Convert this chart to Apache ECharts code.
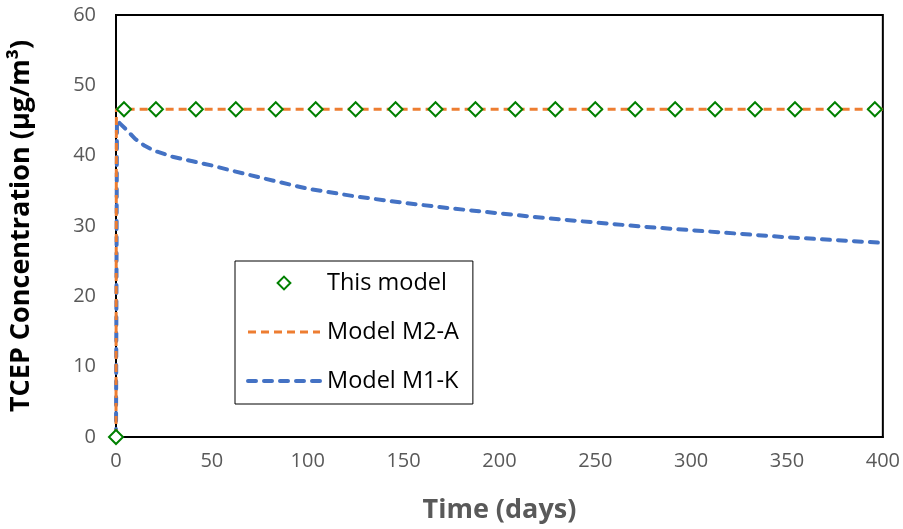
<!DOCTYPE html>
<html>
<head>
<meta charset="utf-8">
<script src="https://cdn.jsdelivr.net/npm/echarts@6/dist/echarts.min.js"></script>
<style>html,body{margin:0;padding:0;background:#fff}#c{width:903px;height:529px}</style>
</head>
<body>
<div id="c"></div>
<script>
// Data
const thisModelDays = [0, 4.17, 20.83, 41.67, 62.5, 83.33, 104.17, 125, 145.83, 166.67, 187.5, 208.33, 229.17, 250, 270.83, 291.67, 312.5, 333.33, 354.17, 375, 395.83];
const thisModelValues = [0, 46.6, 46.6, 46.6, 46.6, 46.6, 46.6, 46.6, 46.6, 46.6, 46.6, 46.6, 46.6, 46.6, 46.6, 46.6, 46.6, 46.6, 46.6, 46.6, 46.6];
const m2aDays = [0, 0.2, 400];
const m2aValues = [0, 46.6, 46.6];
const m1kDays = [0, 0.5, 2, 5, 10, 15, 20, 30, 40, 50, 60, 75, 100, 125, 150, 175, 200, 225, 250, 275, 300, 325, 350, 375, 400];
const m1kValues = [0, 45.0, 44.6, 43.8, 42.4, 41.4, 40.7, 39.8, 39.2, 38.6, 37.9, 36.9, 35.3, 34.2, 33.3, 32.5, 31.8, 31.1, 30.5, 29.9, 29.4, 28.9, 28.4, 28.0, 27.6];
const xTicks = [0, 50, 100, 150, 200, 250, 300, 350, 400];
const yTicks = [0, 10, 20, 30, 40, 50, 60];
const seriesNames = ['This model', 'Model M2-A', 'Model M1-K'];

const zip = (a, b) => a.map((v, i) => [v, b[i]]);
const FONT = '"Open Sans", Lato, "Liberation Sans", sans-serif';

const chart = echarts.init(document.getElementById('c'), null, {renderer: 'canvas'});
chart.setOption({
  animation: false,
  backgroundColor: '#fff',
  textStyle: {fontFamily: FONT},
  grid: {left: 115, right: 20, top: 15, bottom: 92, show: true, borderColor: '#000', borderWidth: 2, backgroundColor: 'transparent'},
  xAxis: {
    type: 'value', min: xTicks[0], max: xTicks[xTicks.length - 1], interval: 50,
    name: 'Time (days)', nameLocation: 'middle', nameGap: 60,
    nameTextStyle: {fontSize: 27, fontWeight: 'bold', color: '#595959', fontFamily: FONT},
    axisLine: {show: true, lineStyle: {color: '#000', width: 2}},
    axisTick: {show: false},
    splitLine: {show: false},
    axisLabel: {fontSize: 20, color: '#595959', margin: 14, fontFamily: FONT}
  },
  yAxis: {
    type: 'value', min: yTicks[0], max: yTicks[yTicks.length - 1], interval: 10,
    name: 'TCEP Concentration (μg/m³)', nameLocation: 'middle', nameGap: 81, nameRotate: 90,
    nameTextStyle: {fontSize: 27, fontWeight: 'bold', color: '#000', fontFamily: FONT},
    axisLine: {show: true, lineStyle: {color: '#000', width: 2}},
    axisTick: {show: false},
    splitLine: {show: false},
    axisLabel: {fontSize: 20, color: '#595959', margin: 20, fontFamily: FONT}
  },
  legend: {
    orient: 'vertical', left: 235, top: 261,
    data: [
      {name: seriesNames[0]},
      {name: seriesNames[1], itemStyle: {opacity: 0}, lineStyle: {width: 3, color: '#ED7D31', type: [8, 5]}},
      {name: seriesNames[2], itemStyle: {opacity: 0}, lineStyle: {width: 4, color: '#4472C4', type: [8, 8], cap: 'round'}}
    ],
    itemWidth: 72, itemHeight: 16, itemGap: 25,
    padding: [10, 14, 11, 11],
    borderColor: '#000', borderWidth: 1, backgroundColor: '#fff',
    textStyle: {fontSize: 23.5, color: '#000', fontFamily: FONT, padding: [0, 0, 0, 2]}
  },
  series: [
    {
      name: seriesNames[2], type: 'line', data: zip(m1kDays, m1kValues),
      symbol: 'none', smooth: false, z: 2,
      lineStyle: {color: '#4472C4', width: 4, type: [8, 8], cap: 'round'},
      itemStyle: {color: '#4472C4'}
    },
    {
      name: seriesNames[1], type: 'line', data: zip(m2aDays, m2aValues),
      symbol: 'none', z: 3,
      lineStyle: {color: '#ED7D31', width: 3, type: [8, 5]},
      itemStyle: {color: '#ED7D31'}
    },
    {
      name: seriesNames[0], type: 'line', data: zip(thisModelDays, thisModelValues),
      symbol: 'diamond', symbolSize: 14, showSymbol: true, showAllSymbol: true, z: 5, clip: false,
      lineStyle: {width: 0, opacity: 0},
      itemStyle: {color: '#fff', borderColor: '#008000', borderWidth: 2}
    }
  ]
});
</script>
</body>
</html>
